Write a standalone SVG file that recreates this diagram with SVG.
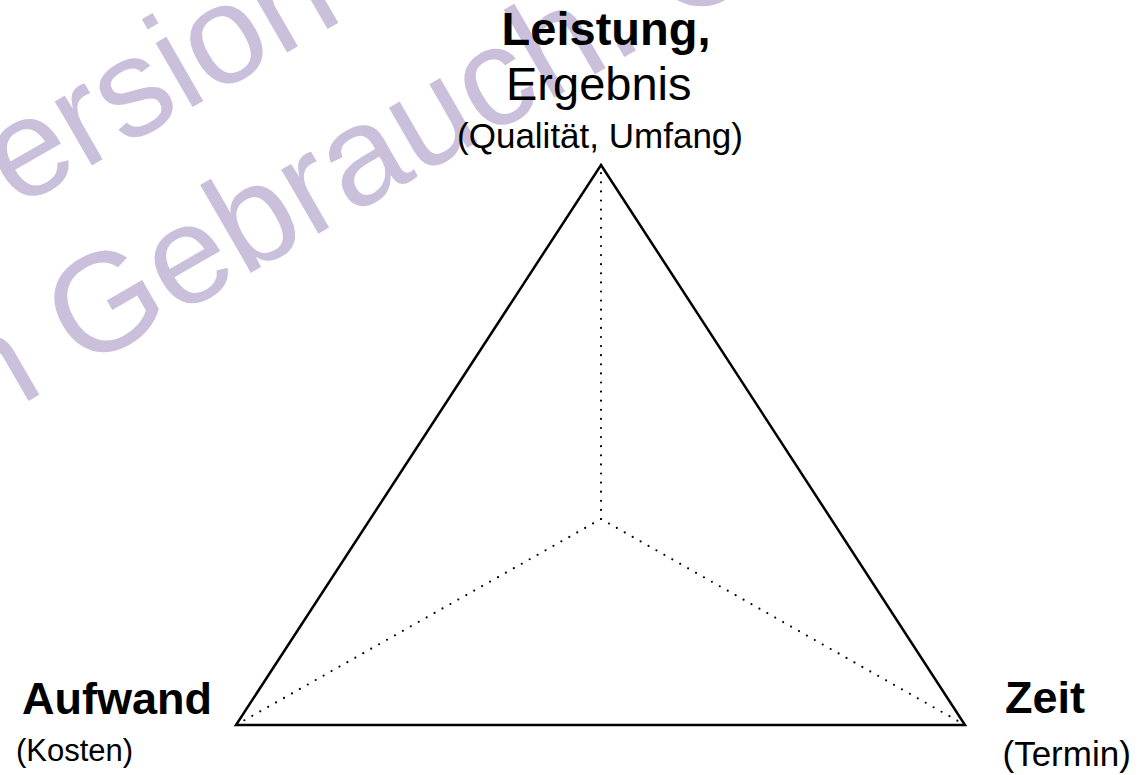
<svg xmlns="http://www.w3.org/2000/svg" width="1147" height="775" viewBox="0 0 1147 775">
<style>
.wm{font-family:"Liberation Sans",Arial,sans-serif;font-size:140px;fill:#cbc0dc}
.b{font-family:"Liberation Sans",Arial,sans-serif;font-weight:bold;fill:#000}
.r{font-family:"Liberation Sans",Arial,sans-serif;fill:#000}
.tri{fill:none;stroke:#000;stroke-width:2.5;stroke-linejoin:miter}
.dot{fill:none;stroke:#000;stroke-width:2.2;stroke-linecap:round;stroke-dasharray:0 9.1}
</style>
<rect width="1147" height="775" fill="#fff"/>
<g id="watermark">
<text class="wm" transform="translate(-58.2,251.9) rotate(-30)">Version</text>
<text class="wm" transform="translate(-20.2,429.3) rotate(-30)">n Gebrauch. ©</text>
</g>
<g id="connectors">
<polygon class="tri" points="601,165 965,725 236,725"/>
<path class="dot" d="M601,519 L601,165"/>
<path class="dot" d="M601,519 L236,725"/>
<path class="dot" d="M601,519 L965,725"/>
</g>
<g id="node-leistung">
<text class="b" x="501.6" y="45" font-size="47">Leistung,</text>
<text class="r" x="506" y="100" font-size="47">Ergebnis</text>
<text class="r" x="600" y="148" font-size="35" text-anchor="middle">(Qualität, Umfang)</text>
</g>
<g id="node-aufwand">
<text class="b" x="22" y="714" font-size="45">Aufwand</text>
<text class="r" x="16" y="760.5" font-size="31">(Kosten)</text>
</g>
<g id="node-zeit">
<text class="b" x="1005" y="713" font-size="45">Zeit</text>
<text class="r" x="1002.5" y="765.5" font-size="35">(Termin)</text>
</g>
</svg>
